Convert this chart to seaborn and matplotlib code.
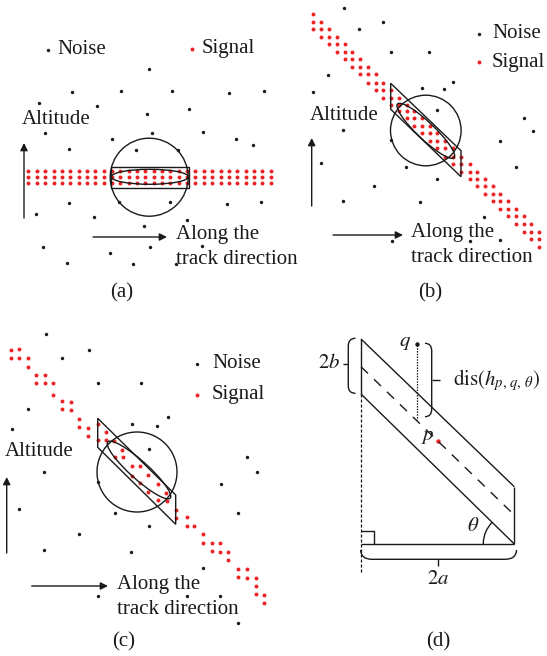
import numpy as np
import pandas as pd
import matplotlib
matplotlib.use("Agg")
import matplotlib.pyplot as plt
import seaborn as sns
from matplotlib.patches import Circle, Ellipse, Polygon, Arc, PathPatch
from matplotlib.path import Path

sns.set_theme(style="white")
plt.rcParams["font.family"] = ["Liberation Serif", "DejaVu Serif"]
plt.rcParams["mathtext.fontset"] = "stix"

# ---------------- data (pixel positions) ----------------
noise_a_x = [149, 72, 121, 172, 229, 264, 39, 97, 189, 147, 45, 152, 203, 112, 236, 253, 69, 136,
             178, 69, 119, 170, 227, 261, 36, 94, 187, 144, 43, 150, 202, 110, 67, 133, 176]
noise_a_y = [69, 92, 91, 91, 93, 91, 103, 106, 109, 114, 133, 133, 132, 139, 139, 145, 149, 150,
             150, 203, 202, 202, 204, 202, 214, 217, 220, 226, 247, 247, 246, 253, 263, 264, 264]
signal_a_cols = [28.4, 36.8, 45.1, 53.5, 61.8, 70.2, 78.5, 86.9, 95.2, 103.6, 111.9, 120.3, 128.6,
                 137.0, 145.3, 153.7, 162.0, 170.4, 178.7, 187.1, 195.4, 203.8, 212.1, 220.5,
                 228.8, 237.2, 245.5, 253.9, 262.2, 270.6]
signal_a_rows = [170.5, 176.8, 183.1]

noise_b_x = [344, 383, 359, 391, 429, 328, 453, 422, 444, 313, 437, 524, 533, 343, 500, 391, 321,
             406, 516, 437, 374, 343, 420, 484, 500, 392, 470]
noise_b_y = [8, 22, 29, 52, 52, 75, 82, 88, 89, 92, 110, 118, 131, 130, 141, 140, 163, 167, 167,
             179, 186, 201, 202, 217, 240, 241, 241]
signal_b_cols = [313.3, 321.1, 328.9, 336.7, 344.5, 352.3, 360.0, 367.8, 375.6, 383.0, 391.0, 398.8,
                 406.5, 414.0, 421.7, 429.6, 437.2, 445.0, 452.9, 460.6, 469.5, 477.1, 484.7,
                 492.5, 500.3, 508.1, 515.8, 523.6, 531.4, 539.2]
signal_b_rows = [14.3, 21.7, 29.0, 36.7, 44.0, 51.7, 59.0, 66.7, 74.0, 82.5, 90.2, 97.6, 104.5,
                 111.2, 118.4, 125.8, 133.3, 140.7, 148.3, 156.5, 164.0, 171.5, 178.6, 186.0,
                 193.8, 201.4, 208.9, 216.4, 224.0, 231.6, 239.1, 246.7]

noise_c_x = [46, 89, 62, 98, 141, 28, 168, 12, 132, 157, 149, 44, 247, 257, 98, 221, 19, 115,
             238, 149, 79, 44, 131, 203, 98, 187, 220, 238]
noise_c_y = [334, 350, 358, 383, 383, 409, 417, 429, 424, 426, 449, 472, 457, 472, 482, 484, 509,
             513, 513, 526, 534, 550, 552, 568, 596, 596, 596, 623]
signal_c_x = [11, 19, 11, 19, 28, 28, 36, 45, 36, 45, 53, 53, 62, 71, 62, 71, 79, 79, 88, 88,
              98, 98, 106, 106, 114, 122, 115, 123, 132, 140, 132, 140, 148, 158, 148, 158, 166,
              167, 176, 176, 187, 187, 194, 203, 203, 212, 220, 212, 220, 228, 228, 238, 247,
              238, 247, 256, 256, 256, 264, 264]
signal_c_y = [350, 349, 358, 358, 358, 367, 375, 375, 383, 383, 383, 395, 401, 402, 409, 410,
              419, 427, 428, 436, 424, 440, 432, 440, 441, 450, 457, 457, 466, 466, 476, 483,
              475, 484, 492, 500, 493, 501, 510, 518, 517, 526, 526, 534, 543, 543, 543, 551,
              552, 552, 560, 569, 569, 577, 578, 578, 586, 594, 595, 603]

legend_labels = ["Noise", "Signal"]

# ---------------- build tables ----------------
rows = []
for x, y in zip(noise_a_x, noise_a_y):
    rows.append((x, y, "Noise"))
for y in signal_a_rows:
    for x in signal_a_cols:
        rows.append((x, y, "Signal"))
for x, y in zip(noise_b_x, noise_b_y):
    rows.append((x, y, "Noise"))
for i, x in enumerate(signal_b_cols):
    for y in signal_b_rows[i:i + 3]:
        rows.append((x, y, "Signal"))
for x, y in zip(noise_c_x, noise_c_y):
    rows.append((x, y, "Noise"))
for x, y in zip(signal_c_x, signal_c_y):
    rows.append((x, y, "Signal"))
df = pd.DataFrame(rows, columns=["x", "y", "kind"])

BLACK = "#1a1a1a"
RED = "#ee2222"
S_NOISE = 6
S_SIGNAL = 8

fig = plt.figure(figsize=(5.47, 6.56), dpi=100)
ax = fig.add_axes([0, 0, 1, 1])
ax.set_xlim(0, 547)
ax.set_ylim(656, 0)
ax.axis("off")

sns.scatterplot(data=df[df.kind == "Noise"], x="x", y="y", color=BLACK, s=S_NOISE,
                linewidth=0, ax=ax, legend=False)
sns.scatterplot(data=df[df.kind == "Signal"], x="x", y="y", color=RED, s=S_SIGNAL,
                linewidth=0, ax=ax, legend=False)

FS = 15
LW = 1.0

def txt(x, y, s, ha="left", va="center", **kw):
    ax.text(x, y, s, ha=ha, va=va, fontsize=kw.pop("fontsize", FS), color=BLACK, **kw)

def arrow(x0, y0, x1, y1):
    ax.annotate("", xy=(x1, y1), xytext=(x0, y0),
                arrowprops=dict(arrowstyle="-|>", lw=LW, color=BLACK,
                                mutation_scale=11, shrinkA=0, shrinkB=0))

def legend(xd, yn, ys, xt):
    ax.scatter([xd], [yn], s=S_NOISE, color=BLACK, linewidth=0)
    ax.scatter([xd], [ys], s=S_SIGNAL, color=RED, linewidth=0)
    txt(xt, yn, legend_labels[0])
    txt(xt, ys, legend_labels[1])

# ---------------- panel (a) ----------------
ax.scatter([48], [50], s=S_NOISE, color=BLACK, linewidth=0)
txt(57, 50, legend_labels[0])
ax.scatter([192], [49], s=S_SIGNAL, color=RED, linewidth=0)
txt(202, 49, legend_labels[1])
txt(22, 119, "Altitude")
arrow(24, 218, 24, 143)
arrow(93, 237, 167, 237)
txt(176, 235, "Along the")
txt(176, 260, "track direction")
txt(122, 293, "(a)", ha="center")
ax.add_patch(Circle((149.2, 177.2), 39, fill=False, lw=LW, ec=BLACK))
ax.add_patch(Polygon([(111, 166.7), (189, 166.7), (189, 187.5), (111, 187.5)],
                     closed=True, fill=False, lw=LW, ec=BLACK))
ax.add_patch(Ellipse((149.8, 176.8), 77, 15, angle=0, fill=False, lw=LW, ec=BLACK))

# ---------------- panel (b) ----------------
legend(479, 34, 62, 492)
txt(310, 115, "Altitude")
arrow(311.7, 206, 311.7, 138)
arrow(333, 235, 403, 235)
txt(411, 233, "Along the")
txt(411, 258, "track direction")
txt(430, 293, "(b)", ha="center")
ax.add_patch(Circle((425.8, 130.5), 35.3, fill=False, lw=LW, ec=BLACK))
ax.add_patch(Polygon([(390.7, 83.3), (461, 150.7), (461, 176.7), (390.7, 109.3)],
                     closed=True, fill=False, lw=LW, ec=BLACK))
ax.add_patch(Ellipse((425.8, 130.8), 78, 17, angle=43.5, fill=False, lw=LW, ec=BLACK))

# ---------------- panel (c) ----------------
legend(197, 364, 395, 212)
txt(5, 451, "Altitude")
arrow(6.7, 553, 6.7, 477)
arrow(31.7, 586, 108, 586)
txt(117, 585, "Along the")
txt(117, 609, "track direction")
txt(124, 642, "(c)", ha="center")
ax.add_patch(Circle((137, 472), 40, fill=False, lw=LW, ec=BLACK))
ax.add_patch(Polygon([(97.7, 418.3), (175.7, 495), (175.7, 524.3), (97.7, 447.3)],
                     closed=True, fill=False, lw=LW, ec=BLACK))
ax.add_patch(Ellipse((139, 470), 84, 18, angle=42, fill=False, lw=LW, ec=BLACK))

# ---------------- panel (d) ----------------
def line(xs, ys, **kw):
    ax.plot(xs, ys, color=BLACK, lw=kw.pop("lw", LW), solid_capstyle="butt", **kw)

line([361, 514.3], [339, 486.7])
line([361, 514.3], [394, 544])
line([514.3, 514.3], [486.7, 544])
line([361, 361], [339, 394])
line([361, 514.3], [544, 544])
line([361, 514.3], [366.7, 515], linestyle=(0, (7, 6)))
line([360.7, 360.7], [394, 574], lw=0.9, linestyle=(0, (2.5, 1.5)))
line([416.7, 416.7], [345, 420], lw=0.9, linestyle=(0, (1.2, 1.0)))
# right angle marker
line([361, 374.3, 374.3], [531, 531, 544])
# theta arc
ax.add_patch(Arc((514.3, 544), 62, 62, angle=0, theta1=180, theta2=224.4, lw=LW, color=BLACK))

def brace(verts):
    codes = [Path.MOVETO, Path.CURVE3, Path.CURVE3, Path.LINETO, Path.CURVE3, Path.CURVE3]
    ax.add_patch(PathPatch(Path(verts, codes), fill=False, lw=LW, ec=BLACK))

brace([(355.5, 338.3), (348.3, 338.3), (348.3, 346), (348.3, 386), (348.3, 393.3), (355.5, 393.3)])
line([342.5, 348.3], [364.3, 364.3])
brace([(425, 343.3), (431.7, 343.3), (431.7, 351), (431.7, 409), (431.7, 416.7), (425, 416.7)])
line([431.7, 440], [380, 380])
brace([(360.7, 550), (360.7, 559.3), (372, 559.3), (505, 559.3), (516.5, 559.3), (516.5, 550)])
line([438.3, 438.3], [559.3, 566])

ax.scatter([416.7], [344.3], s=10, color=BLACK, linewidth=0)
ax.scatter([437.7], [440.7], s=10, color=RED, linewidth=0)
txt(411, 342, r"$q$", ha="right")
txt(428, 437, r"$p$", ha="center")
txt(473.5, 526.5, r"$\theta$", ha="center")
txt(340.5, 364, r"$2b$", ha="right")
txt(438.3, 580, r"$2a$", ha="center")
txt(452.7, 380, r"$\mathrm{dis}(h_{p,\,q,\,\theta})$")
txt(438, 642, "(d)", ha="center")

fig.savefig("out.png", dpi=100)
